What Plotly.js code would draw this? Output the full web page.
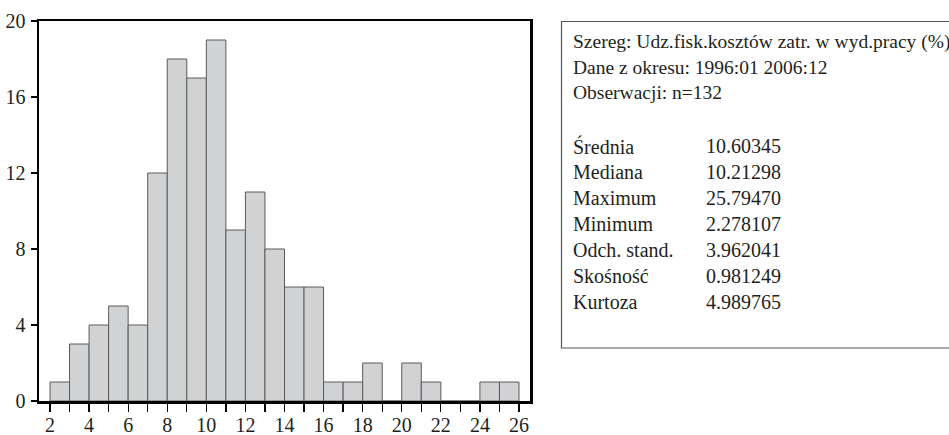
<!DOCTYPE html>
<html>
<head>
<meta charset="utf-8">
<script src="https://cdn.plot.ly/plotly-3.0.1.min.js"></script>
<style>html,body{margin:0;padding:0;background:#fff;}#chart{width:949px;height:435px;}</style>
</head>
<body>
<div id="chart"></div>
<script>
// Histogram bins (left edges, width 1) and counts
const binLeft = [2,3,4,5,6,7,8,9,10,11,12,13,14,15,16,17,18,19,20,21,22,23,24,25];
const counts  = [1,3,4,5,4,12,18,17,19,9,11,8,6,6,1,1,2,0,2,1,0,0,1,1];

// Stats panel text
const headerLines = [
  "Szereg: Udz.fisk.kosztów zatr. w wyd.pracy (%)",
  "Dane z okresu: 1996:01 2006:12",
  "Obserwacji: n=132"
];
const statLabels = ["Średnia","Mediana","Maximum","Minimum","Odch. stand.","Skośność","Kurtoza"];
const statValues = ["10.60345","10.21298","25.79470","2.278107","3.962041","0.981249","4.989765"];

const W = 949, H = 435;
const mL = 39, mR = 0, mT = 21, mB = 34;
const plotW = W - mL - mR, plotH = H - mT - mB;
const px = p => (p - mL) / plotW;          // pixel x -> paper x
const py = p => (H - mB - p) / plotH;      // pixel y -> paper y
const FONT = "Liberation Serif";
const TXT = "#231f20";

const annotations = [];
headerLines.forEach((t, i) => {
  annotations.push({text: t, xref: "paper", yref: "paper", x: px(571), y: py(42 + i * 25),
    xanchor: "left", yanchor: "middle", showarrow: false, font: {family: FONT, size: 19.5, color: TXT}});
});
statLabels.forEach((t, i) => {
  const yy = py(146 + i * 26);
  annotations.push({text: t, xref: "paper", yref: "paper", x: px(571), y: yy,
    xanchor: "left", yanchor: "middle", showarrow: false, font: {family: FONT, size: 20, color: TXT}});
  annotations.push({text: statValues[i], xref: "paper", yref: "paper", x: px(704), y: yy,
    xanchor: "left", yanchor: "middle", showarrow: false, font: {family: FONT, size: 20, color: TXT}});
});

const trace = {
  type: "bar",
  x: binLeft,
  y: counts,
  width: 1,
  offset: 0,
  marker: {color: "#d1d2d4", line: {color: "#5a5a5a", width: 1}},
  hoverinfo: "skip"
};

const layout = {
  width: W, height: H,
  margin: {l: mL, r: mR, t: mT, b: mB, pad: 0},
  paper_bgcolor: "#fff", plot_bgcolor: "#fff",
  showlegend: false,
  font: {family: FONT, size: 20, color: TXT},
  xaxis: {
    domain: [0, (530 - mL) / plotW],
    range: [1.437, 26.563],
    tick0: 2, dtick: 2,
    ticks: "outside", ticklen: 8, tickwidth: 1.3, tickcolor: "#000",
    minor: {dtick: 1, tick0: 1, ticks: "outside", ticklen: 8, tickwidth: 1.3, tickcolor: "#000"},
    showline: true, linewidth: 2.5, linecolor: "#000", mirror: true,
    showgrid: false, zeroline: false,
    ticklabelstandoff: -4,
    tickfont: {family: FONT, size: 20, color: TXT}
  },
  yaxis: {
    range: [0, 20],
    tick0: 0, dtick: 4,
    ticks: "outside", ticklen: 6, tickwidth: 1.3, tickcolor: "#000",
    showline: true, linewidth: 2.5, linecolor: "#000", mirror: true,
    showgrid: false, zeroline: false,
    ticklabelstandoff: 1,
    tickfont: {family: FONT, size: 20, color: TXT}
  },
  shapes: [{
    type: "rect", xref: "paper", yref: "paper",
    x0: px(561.5), x1: px(955), y0: py(348), y1: py(21.5),
    line: {color: "#555", width: 1.2}, fillcolor: "rgba(0,0,0,0)"
  }],
  annotations: annotations
};

Plotly.newPlot("chart", [trace], layout, {displayModeBar: false, staticPlot: true});
</script>
</body>
</html>
